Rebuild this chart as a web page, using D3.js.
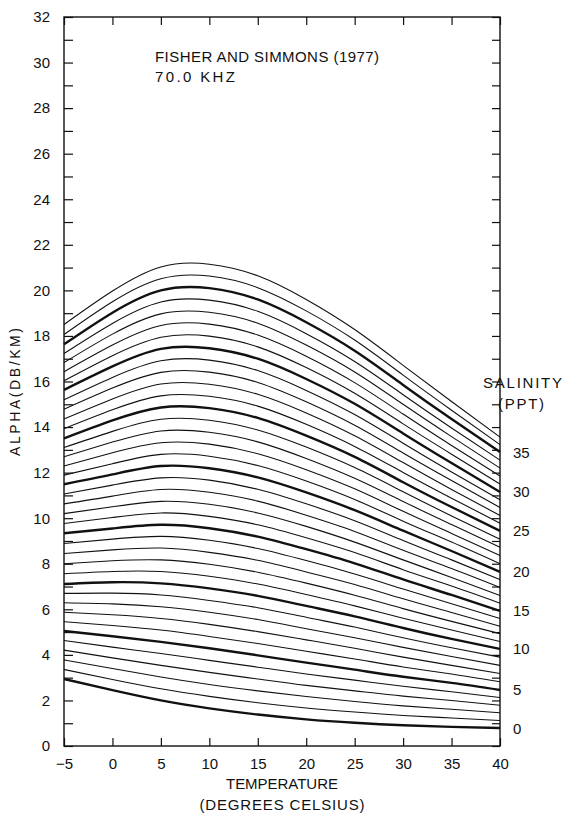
<!DOCTYPE html>
<html>
<head>
<meta charset="utf-8">
<script src="https://cdn.jsdelivr.net/npm/d3@7"></script>
<style>
  html, body { margin: 0; padding: 0; background: #fff; }
  svg { display: block; }
  text { font-family: "Liberation Sans", "DejaVu Sans", sans-serif; fill: #111; }
</style>
</head>
<body>
<svg id="chart" width="567" height="813"></svg>
<script>
// Sound absorption at 70 kHz vs temperature, one curve per salinity (ppt)
const temperature = [-5, 0, 5, 10, 15, 20, 25, 30, 35, 40];
const salinity = [0, 1, 2, 3, 4, 5, 6, 7, 8, 9, 10, 11, 12, 13, 14, 15, 16, 17, 18, 19,
                  20, 21, 22, 23, 24, 25, 26, 27, 28, 29, 30, 31, 32, 33, 34, 35, 36, 37];
// alpha (dB/km), one row per salinity, one column per temperature
const alpha = [
  [2.94, 2.45, 2.00, 1.65, 1.38, 1.17, 1.02, 0.91, 0.84, 0.79],
  [3.36, 2.92, 2.51, 2.18, 1.90, 1.67, 1.49, 1.34, 1.23, 1.12],
  [3.78, 3.40, 3.03, 2.70, 2.42, 2.17, 1.95, 1.76, 1.61, 1.46],
  [4.21, 3.87, 3.54, 3.23, 2.94, 2.66, 2.42, 2.19, 2.00, 1.79],
  [4.63, 4.34, 4.06, 3.76, 3.46, 3.16, 2.89, 2.62, 2.38, 2.13],
  [5.05, 4.82, 4.57, 4.29, 3.98, 3.66, 3.35, 3.04, 2.77, 2.46],
  [5.46, 5.29, 5.09, 4.81, 4.50, 4.16, 3.82, 3.47, 3.16, 2.82],
  [5.87, 5.76, 5.60, 5.34, 5.02, 4.66, 4.29, 3.90, 3.54, 3.18],
  [6.29, 6.24, 6.11, 5.87, 5.55, 5.15, 4.75, 4.33, 3.93, 3.54],
  [6.70, 6.71, 6.63, 6.39, 6.07, 5.65, 5.22, 4.75, 4.31, 3.90],
  [7.11, 7.19, 7.14, 6.92, 6.59, 6.15, 5.69, 5.18, 4.70, 4.26],
  [7.56, 7.66, 7.66, 7.45, 7.11, 6.65, 6.15, 5.61, 5.09, 4.59],
  [8.00, 8.13, 8.17, 7.98, 7.63, 7.15, 6.62, 6.03, 5.47, 4.93],
  [8.45, 8.61, 8.69, 8.50, 8.15, 7.64, 7.09, 6.46, 5.86, 5.26],
  [8.89, 9.08, 9.20, 9.03, 8.67, 8.14, 7.55, 6.89, 6.24, 5.60],
  [9.34, 9.55, 9.71, 9.56, 9.19, 8.64, 8.02, 7.31, 6.63, 5.93],
  [9.77, 10.03, 10.23, 10.08, 9.71, 9.14, 8.49, 7.74, 7.02, 6.27],
  [10.20, 10.50, 10.74, 10.61, 10.23, 9.64, 8.95, 8.17, 7.40, 6.61],
  [10.63, 10.97, 11.26, 11.14, 10.75, 10.13, 9.42, 8.59, 7.79, 6.96],
  [11.06, 11.45, 11.77, 11.67, 11.27, 10.63, 9.89, 9.02, 8.17, 7.30],
  [11.49, 11.92, 12.29, 12.19, 11.79, 11.13, 10.35, 9.45, 8.56, 7.64],
  [11.89, 12.39, 12.80, 12.72, 12.31, 11.63, 10.82, 9.87, 8.95, 8.00],
  [12.29, 12.87, 13.31, 13.25, 12.83, 12.13, 11.29, 10.30, 9.33, 8.36],
  [12.70, 13.34, 13.83, 13.77, 13.35, 12.62, 11.75, 10.73, 9.72, 8.72],
  [13.10, 13.81, 14.34, 14.30, 13.87, 13.12, 12.22, 11.16, 10.10, 9.08],
  [13.50, 14.29, 14.86, 14.83, 14.40, 13.62, 12.69, 11.58, 10.49, 9.44],
  [13.93, 14.76, 15.37, 15.35, 14.92, 14.12, 13.15, 12.01, 10.88, 9.78],
  [14.35, 15.23, 15.89, 15.88, 15.44, 14.62, 13.62, 12.44, 11.26, 10.12],
  [14.78, 15.71, 16.40, 16.41, 15.96, 15.11, 14.08, 12.86, 11.65, 10.47],
  [15.20, 16.18, 16.91, 16.94, 16.48, 15.61, 14.55, 13.29, 12.03, 10.81],
  [15.63, 16.66, 17.43, 17.46, 17.00, 16.11, 15.02, 13.72, 12.42, 11.15],
  [16.03, 17.13, 17.94, 17.99, 17.52, 16.61, 15.48, 14.14, 12.81, 11.50],
  [16.43, 17.60, 18.46, 18.52, 18.04, 17.11, 15.95, 14.57, 13.19, 11.85],
  [16.83, 18.08, 18.97, 19.04, 18.56, 17.60, 16.42, 15.00, 13.58, 12.20],
  [17.23, 18.55, 19.49, 19.57, 19.08, 18.10, 16.88, 15.42, 13.96, 12.55],
  [17.63, 19.02, 20.00, 20.10, 19.60, 18.60, 17.35, 15.85, 14.35, 12.90],
  [18.06, 19.50, 20.51, 20.63, 20.12, 19.10, 17.82, 16.28, 14.74, 13.23],
  [18.50, 19.97, 21.03, 21.15, 20.64, 19.60, 18.28, 16.71, 15.12, 13.56]
];
const xTickValues = [-5, 0, 5, 10, 15, 20, 25, 30, 35, 40];
const yTickValues = [0, 2, 4, 6, 8, 10, 12, 14, 16, 18, 20, 22, 24, 26, 28, 30, 32];
const salinityLabels = [0, 5, 10, 15, 20, 25, 30, 35];
const titleLines = ["FISHER AND SIMMONS (1977)", "70.0 KHZ"];

(function draw() {
  const svg = d3.select("#chart");
  const plotLeft = 64, plotRight = 500, plotTop = 17, plotBottom = 746;

  const x = d3.scaleLinear().domain([-5, 40]).range([plotLeft, plotRight]);
  const y = d3.scaleLinear().domain([0, 32]).range([plotBottom, plotTop]);

  // curves
  const line = d3.line()
    .x((d, i) => x(temperature[i]))
    .y(d => y(d))
    .curve(d3.curveNatural);

  svg.append("g")
    .attr("fill", "none")
    .attr("stroke", "#111")
    .selectAll("path")
    .data(alpha)
    .join("path")
    .attr("d", d => line(d))
    .attr("stroke-width", (d, i) => salinity[i] % 5 === 0 ? 2.4 : 1.1);

  // axes: ticks point into the plot
  const minorY = d3.range(0, 33);
  const axisStyle = g => {
    g.select(".domain").remove();
    g.selectAll(".tick line").attr("stroke", "#111").attr("stroke-width", 1.2);
    g.selectAll(".tick text").attr("font-size", 15).attr("fill", "#111")
      .attr("font-family", "Liberation Sans, DejaVu Sans, sans-serif");
  };

  svg.append("g")
    .attr("transform", `translate(${plotLeft},0)`)
    .call(d3.axisLeft(y).tickValues(minorY).tickSize(-9).tickPadding(14)
      .tickFormat(v => yTickValues.includes(v) ? String(v) : ""))
    .call(axisStyle);

  svg.append("g")
    .attr("transform", `translate(${plotRight},0)`)
    .call(d3.axisRight(y).tickValues(minorY).tickSize(-8).tickFormat(""))
    .call(axisStyle);

  svg.append("g")
    .attr("transform", `translate(0,${plotTop})`)
    .call(d3.axisTop(x).tickValues(xTickValues).tickSize(-8).tickFormat(""))
    .call(axisStyle);

  svg.append("g")
    .attr("transform", `translate(0,${plotBottom})`)
    .call(d3.axisBottom(x).tickValues(xTickValues).tickSize(-8).tickPadding(12))
    .call(axisStyle);

  // frame
  svg.append("rect")
    .attr("x", plotLeft).attr("y", plotTop)
    .attr("width", plotRight - plotLeft).attr("height", plotBottom - plotTop)
    .attr("fill", "none").attr("stroke", "#111").attr("stroke-width", 1.4);

  // salinity labels at the ends of the heavy curves
  const lastT = temperature.length - 1;
  svg.append("g")
    .selectAll("text")
    .data(salinityLabels)
    .join("text")
    .attr("x", plotRight + 13)
    .attr("y", s => y(alpha[salinity.indexOf(s)][lastT]) + 5.5)
    .attr("font-size", 15)
    .text(s => s);

  svg.append("text").attr("x", 483).attr("y", 388).attr("font-size", 15)
    .attr("textLength", 79).attr("lengthAdjust", "spacing").text("SALINITY");
  svg.append("text").attr("x", 498).attr("y", 409).attr("font-size", 15)
    .attr("textLength", 46).attr("lengthAdjust", "spacing").text("(PPT)");

  // title block
  svg.append("text").attr("x", 155).attr("y", 62).attr("font-size", 15)
    .attr("textLength", 224).attr("lengthAdjust", "spacing").text(titleLines[0]);
  svg.append("text").attr("x", 155).attr("y", 82).attr("font-size", 15)
    .attr("textLength", 80).attr("lengthAdjust", "spacing").text(titleLines[1]);

  // axis titles
  svg.append("text")
    .attr("transform", "translate(20,392) rotate(-90)")
    .attr("text-anchor", "middle").attr("font-size", 14)
    .attr("textLength", 128).attr("lengthAdjust", "spacing")
    .text("ALPHA(DB/KM)");

  svg.append("text").attr("x", (plotLeft + plotRight) / 2).attr("y", 789)
    .attr("text-anchor", "middle").attr("font-size", 15)
    .attr("textLength", 112).attr("lengthAdjust", "spacing").text("TEMPERATURE");
  svg.append("text").attr("x", (plotLeft + plotRight) / 2).attr("y", 810)
    .attr("text-anchor", "middle").attr("font-size", 15)
    .attr("textLength", 165).attr("lengthAdjust", "spacing").text("(DEGREES CELSIUS)");
})();
</script>
</body>
</html>
